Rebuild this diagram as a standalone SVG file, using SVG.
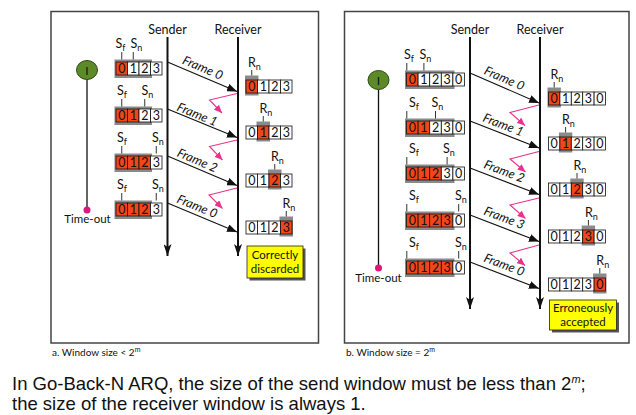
<svg xmlns="http://www.w3.org/2000/svg" width="636" height="415" viewBox="0 0 636 415">
<style>
.panel{fill:#fff;stroke:#444;stroke-width:1.5}
.t{font-family:Lato,"Noto Sans",sans-serif;fill:#111}
.hdr{font-size:12.5px;text-anchor:middle}
.d{font-size:12.5px;text-anchor:middle}
.lbl{font-size:12.5px}
.fr{font-size:12.5px;font-style:italic;text-anchor:middle}
.c{fill:#fff;stroke:#111;stroke-width:0.8}
.o{fill:#f2461a;stroke:#111;stroke-width:0.8}
.sh{fill:#8a8a8a}
.tk{stroke:#333;stroke-width:1}
.vl{stroke:#111;stroke-width:2;fill:none}
.fa{stroke:#111;stroke-width:1.1;fill:none}
.pk{stroke:#e8338c;stroke-width:1.1;fill:none}
.tl{stroke:#111;stroke-width:1.3}
.dot{fill:#e0157a}
.go{fill:#5d8a28;stroke:#2e4a12;stroke-width:1}
.yb{fill:#ffff00;stroke:#222;stroke-width:0.8}
.ys{fill:#555}
.yt{font-size:11.5px;text-anchor:middle}
.cap{font-family:Lato,"Noto Sans",sans-serif;font-size:10px;fill:#111}
.note{font-family:"Liberation Sans",Arial,sans-serif;font-size:18.5px;fill:#111}
</style>
<defs>
<marker id="ab" viewBox="0 0 10 8" refX="10" refY="4" markerWidth="10" markerHeight="8" markerUnits="userSpaceOnUse" orient="auto"><path d="M0,0 L10,4 L0,8 z" fill="#111"/></marker>
<marker id="av" viewBox="0 0 12 8" refX="12" refY="4" markerWidth="12" markerHeight="8" markerUnits="userSpaceOnUse" orient="auto"><path d="M0,0 L12,4 L0,8 L3,4 z" fill="#111"/></marker>
<marker id="ap" viewBox="0 0 8 7" refX="8" refY="3.5" markerWidth="8" markerHeight="7" markerUnits="userSpaceOnUse" orient="auto"><path d="M0,0 L8,3.5 L0,7 z" fill="#e8338c"/></marker>
</defs>
<rect width="636" height="415" fill="#fff"/>

<g id="panel-a">
<rect class="panel" x="51" y="11.5" width="267.5" height="331.5"/>
<text class="cap" x="52" y="356">a. Window size &lt; 2<tspan dy="-4" font-size="7px">m</tspan></text>
</g>
<g id="panel-b">
<rect class="panel" x="344.5" y="11.5" width="284.5" height="331.5"/>
<text class="cap" x="346" y="356">b. Window size = 2<tspan dy="-4" font-size="7px">m</tspan></text>
</g>

<g id="connectors">
<line class="vl" x1="167.5" y1="37" x2="167.5" y2="256" marker-end="url(#av)"/>
<line class="vl" x1="238" y1="37" x2="238" y2="256" marker-end="url(#av)"/>
<line class="vl" x1="470" y1="37" x2="470" y2="309" marker-end="url(#av)"/>
<line class="vl" x1="540" y1="37" x2="540" y2="309" marker-end="url(#av)"/>
<line class="tl" x1="87" y1="79.5" x2="87" y2="210"/>
<line class="tl" x1="378.5" y1="89.5" x2="378.5" y2="268"/>
<line class="fa" x1="167.5" y1="62" x2="237" y2="91.5" marker-end="url(#ab)"/>
<line class="fa" x1="167.5" y1="109" x2="237" y2="137.5" marker-end="url(#ab)"/>
<line class="fa" x1="167.5" y1="156" x2="237" y2="185.5" marker-end="url(#ab)"/>
<line class="fa" x1="167.5" y1="203" x2="237" y2="232" marker-end="url(#ab)"/>
<line class="fa" x1="470" y1="73" x2="539" y2="103" marker-end="url(#ab)"/>
<line class="fa" x1="470" y1="121" x2="539" y2="148" marker-end="url(#ab)"/>
<line class="fa" x1="470" y1="168" x2="539" y2="194.5" marker-end="url(#ab)"/>
<line class="fa" x1="470" y1="215" x2="539" y2="241.5" marker-end="url(#ab)"/>
<line class="fa" x1="470" y1="262" x2="539" y2="288.5" marker-end="url(#ab)"/>
<polyline class="pk" points="237,93.5 209.5,100 222,113" marker-end="url(#ap)"/>
<polyline class="pk" points="237,140 209.5,146.5 222.5,160" marker-end="url(#ap)"/>
<polyline class="pk" points="237,188 209,195 222.5,208.5" marker-end="url(#ap)"/>
<polyline class="pk" points="539,105 510,112.5 525,125.5" marker-end="url(#ap)"/>
<polyline class="pk" points="539,151.5 510,159 525.5,172" marker-end="url(#ap)"/>
<polyline class="pk" points="539,198 510,205 525.5,218.5" marker-end="url(#ap)"/>
<polyline class="pk" points="539,245 510,253 525,265.5" marker-end="url(#ap)"/>
<text class="t fr" x="202.5" y="72" transform="rotate(23 202.5 68.3)">Frame 0</text>
<text class="t fr" x="197" y="118.5" transform="rotate(22.5 197 115)">Frame 1</text>
<text class="t fr" x="197" y="164.5" transform="rotate(23 197 161)">Frame 2</text>
<text class="t fr" x="197" y="210.5" transform="rotate(22.5 197 207)">Frame 0</text>
<text class="t fr" x="504" y="82.5" transform="rotate(23.5 504 79)">Frame 0</text>
<text class="t fr" x="503" y="129" transform="rotate(21.5 503 125.5)">Frame 1</text>
<text class="t fr" x="504" y="175.5" transform="rotate(21 504 172)">Frame 2</text>
<text class="t fr" x="504" y="222" transform="rotate(21 504 218.5)">Frame 3</text>
<text class="t fr" x="504" y="269" transform="rotate(21 504 265.5)">Frame 0</text>
</g>

<g id="sender-a"><text class="t hdr" x="167.5" y="34">Sender</text></g>
<g id="receiver-a"><text class="t hdr" x="238" y="34">Receiver</text></g>
<g id="sender-b"><text class="t hdr" x="470" y="34">Sender</text></g>
<g id="receiver-b"><text class="t hdr" x="540" y="34">Receiver</text></g>

<g id="timer-a">
<ellipse class="go" cx="87" cy="70" rx="10.5" ry="9.5"/>
<text class="t" x="87" y="74.5" font-size="12px" text-anchor="middle">I</text>
<circle class="dot" cx="87" cy="210" r="3.5"/>
<text class="t" x="87.5" y="223" font-size="11.5px" text-anchor="middle">Time-out</text>
</g>
<g id="timer-b">
<ellipse class="go" cx="378.5" cy="80" rx="10.5" ry="9.5"/>
<text class="t" x="378.5" y="84.5" font-size="12px" text-anchor="middle">I</text>
<circle class="dot" cx="378.5" cy="268" r="3.5"/>
<text class="t" x="378.5" y="281.5" font-size="11.5px" text-anchor="middle">Time-out</text>
</g>

<g id="swin-a1">
<rect class="sh" x="114.5" y="59.5" width="37.5" height="18.5"/>
<rect class="o" x="116" y="62" width="11.5" height="13"/><rect class="c" x="127.5" y="62" width="11.5" height="13"/><rect class="c" x="139" y="62" width="11.5" height="13"/><rect class="c" x="150.5" y="62" width="11.5" height="13"/>
<text class="t d" y="73"><tspan x="121.75">0</tspan><tspan x="133.25">1</tspan><tspan x="144.75">2</tspan><tspan x="156.25">3</tspan></text>
<line class="tk" x1="121.75" y1="52" x2="121.75" y2="59.5"/><line class="tk" x1="133.25" y1="52" x2="133.25" y2="59.5"/>
<text class="t lbl" x="115.5" y="48">S<tspan dy="2.5" font-size="9px">f</tspan></text>
<text class="t lbl" x="130.5" y="48">S<tspan dy="2.5" font-size="9px">n</tspan></text>
</g>
<g id="swin-a2">
<rect class="sh" x="114.5" y="106.5" width="37.5" height="18.5"/>
<rect class="o" x="116" y="109" width="11.5" height="13"/><rect class="o" x="127.5" y="109" width="11.5" height="13"/><rect class="c" x="139" y="109" width="11.5" height="13"/><rect class="c" x="150.5" y="109" width="11.5" height="13"/>
<text class="t d" y="120"><tspan x="121.75">0</tspan><tspan x="133.25">1</tspan><tspan x="144.75">2</tspan><tspan x="156.25">3</tspan></text>
<line class="tk" x1="121.75" y1="99" x2="121.75" y2="106.5"/><line class="tk" x1="144.75" y1="99" x2="144.75" y2="106.5"/>
<text class="t lbl" x="117" y="95">S<tspan dy="2.5" font-size="9px">f</tspan></text>
<text class="t lbl" x="141.5" y="95">S<tspan dy="2.5" font-size="9px">n</tspan></text>
</g>
<g id="swin-a3">
<rect class="sh" x="114.5" y="153.5" width="37.5" height="18.5"/>
<rect class="o" x="116" y="156" width="11.5" height="13"/><rect class="o" x="127.5" y="156" width="11.5" height="13"/><rect class="o" x="139" y="156" width="11.5" height="13"/><rect class="c" x="150.5" y="156" width="11.5" height="13"/>
<text class="t d" y="167"><tspan x="121.75">0</tspan><tspan x="133.25">1</tspan><tspan x="144.75">2</tspan><tspan x="156.25">3</tspan></text>
<line class="tk" x1="121.75" y1="146" x2="121.75" y2="153.5"/><line class="tk" x1="156.25" y1="146" x2="156.25" y2="153.5"/>
<text class="t lbl" x="117" y="142">S<tspan dy="2.5" font-size="9px">f</tspan></text>
<text class="t lbl" x="152" y="142">S<tspan dy="2.5" font-size="9px">n</tspan></text>
</g>
<g id="swin-a4">
<rect class="sh" x="114.5" y="200.5" width="37.5" height="18.5"/>
<rect class="o" x="116" y="203" width="11.5" height="13"/><rect class="o" x="127.5" y="203" width="11.5" height="13"/><rect class="o" x="139" y="203" width="11.5" height="13"/><rect class="c" x="150.5" y="203" width="11.5" height="13"/>
<text class="t d" y="214"><tspan x="121.75">0</tspan><tspan x="133.25">1</tspan><tspan x="144.75">2</tspan><tspan x="156.25">3</tspan></text>
<line class="tk" x1="121.75" y1="193" x2="121.75" y2="200.5"/><line class="tk" x1="156.25" y1="193" x2="156.25" y2="200.5"/>
<text class="t lbl" x="117" y="189">S<tspan dy="2.5" font-size="9px">f</tspan></text>
<text class="t lbl" x="152" y="189">S<tspan dy="2.5" font-size="9px">n</tspan></text>
</g>

<g id="rwin-a1">
<rect class="sh" x="245" y="75.5" width="13.5" height="20"/>
<rect class="o" x="246" y="80" width="11.5" height="13"/><rect class="c" x="257.5" y="80" width="11.5" height="13"/><rect class="c" x="269" y="80" width="11.5" height="13"/><rect class="c" x="280.5" y="80" width="11.5" height="13"/>
<text class="t d" y="91"><tspan x="251.75">0</tspan><tspan x="263.25">1</tspan><tspan x="274.75">2</tspan><tspan x="286.25">3</tspan></text>
<line class="tk" x1="251.75" y1="70" x2="251.75" y2="75.5"/>
<text class="t lbl" x="248" y="67">R<tspan dy="2.5" font-size="9px">n</tspan></text>
</g>
<g id="rwin-a2">
<rect class="sh" x="256.5" y="121.5" width="13.5" height="20"/>
<rect class="c" x="246" y="126" width="11.5" height="13"/><rect class="o" x="257.5" y="126" width="11.5" height="13"/><rect class="c" x="269" y="126" width="11.5" height="13"/><rect class="c" x="280.5" y="126" width="11.5" height="13"/>
<text class="t d" y="137"><tspan x="251.75">0</tspan><tspan x="263.25">1</tspan><tspan x="274.75">2</tspan><tspan x="286.25">3</tspan></text>
<line class="tk" x1="263.25" y1="116" x2="263.25" y2="121.5"/>
<text class="t lbl" x="259.5" y="113">R<tspan dy="2.5" font-size="9px">n</tspan></text>
</g>
<g id="rwin-a3">
<rect class="sh" x="268" y="169.5" width="13.5" height="20"/>
<rect class="c" x="246" y="174" width="11.5" height="13"/><rect class="c" x="257.5" y="174" width="11.5" height="13"/><rect class="o" x="269" y="174" width="11.5" height="13"/><rect class="c" x="280.5" y="174" width="11.5" height="13"/>
<text class="t d" y="185"><tspan x="251.75">0</tspan><tspan x="263.25">1</tspan><tspan x="274.75">2</tspan><tspan x="286.25">3</tspan></text>
<line class="tk" x1="274.75" y1="164" x2="274.75" y2="169.5"/>
<text class="t lbl" x="271" y="161">R<tspan dy="2.5" font-size="9px">n</tspan></text>
</g>
<g id="rwin-a4">
<rect class="sh" x="279.5" y="216.5" width="13.5" height="20"/>
<rect class="c" x="246" y="221" width="11.5" height="13"/><rect class="c" x="257.5" y="221" width="11.5" height="13"/><rect class="c" x="269" y="221" width="11.5" height="13"/><rect class="o" x="280.5" y="221" width="11.5" height="13"/>
<text class="t d" y="232"><tspan x="251.75">0</tspan><tspan x="263.25">1</tspan><tspan x="274.75">2</tspan><tspan x="286.25">3</tspan></text>
<line class="tk" x1="286.25" y1="211" x2="286.25" y2="216.5"/>
<text class="t lbl" x="282.5" y="208">R<tspan dy="2.5" font-size="9px">n</tspan></text>
</g>

<g id="note-a">
<rect class="ys" x="249.5" y="248.5" width="56" height="32"/>
<rect class="yb" x="247" y="246" width="56" height="32"/>
<text class="t yt" x="275" y="258.5">Correctly</text>
<text class="t yt" x="275" y="272.5">discarded</text>
</g>

<g id="swin-b1">
<rect class="sh" x="405" y="70.5" width="49.5" height="18.5"/>
<rect class="o" x="406.5" y="73" width="11.6" height="13"/><rect class="c" x="418.1" y="73" width="11.6" height="13"/><rect class="c" x="429.7" y="73" width="11.6" height="13"/><rect class="c" x="441.3" y="73" width="11.6" height="13"/><rect class="c" x="452.9" y="73" width="11.6" height="13"/>
<text class="t d" y="84"><tspan x="412.3">0</tspan><tspan x="423.9">1</tspan><tspan x="435.5">2</tspan><tspan x="447.1">3</tspan><tspan x="458.7">0</tspan></text>
<line class="tk" x1="406.8" y1="63" x2="406.8" y2="70.5"/><line class="tk" x1="423.9" y1="63" x2="423.9" y2="70.5"/>
<text class="t lbl" x="404" y="59">S<tspan dy="2.5" font-size="9px">f</tspan></text>
<text class="t lbl" x="419.5" y="59">S<tspan dy="2.5" font-size="9px">n</tspan></text>
</g>
<g id="swin-b2">
<rect class="sh" x="405" y="118.5" width="49.5" height="18.5"/>
<rect class="o" x="406.5" y="121" width="11.6" height="13"/><rect class="o" x="418.1" y="121" width="11.6" height="13"/><rect class="c" x="429.7" y="121" width="11.6" height="13"/><rect class="c" x="441.3" y="121" width="11.6" height="13"/><rect class="c" x="452.9" y="121" width="11.6" height="13"/>
<text class="t d" y="132"><tspan x="412.3">0</tspan><tspan x="423.9">1</tspan><tspan x="435.5">2</tspan><tspan x="447.1">3</tspan><tspan x="458.7">0</tspan></text>
<line class="tk" x1="406.8" y1="111" x2="406.8" y2="118.5"/><line class="tk" x1="435.5" y1="111" x2="435.5" y2="118.5"/>
<text class="t lbl" x="409" y="107">S<tspan dy="2.5" font-size="9px">f</tspan></text>
<text class="t lbl" x="431.5" y="107">S<tspan dy="2.5" font-size="9px">n</tspan></text>
</g>
<g id="swin-b3">
<rect class="sh" x="405" y="164.5" width="49.5" height="18.5"/>
<rect class="o" x="406.5" y="167" width="11.6" height="13"/><rect class="o" x="418.1" y="167" width="11.6" height="13"/><rect class="o" x="429.7" y="167" width="11.6" height="13"/><rect class="c" x="441.3" y="167" width="11.6" height="13"/><rect class="c" x="452.9" y="167" width="11.6" height="13"/>
<text class="t d" y="178"><tspan x="412.3">0</tspan><tspan x="423.9">1</tspan><tspan x="435.5">2</tspan><tspan x="447.1">3</tspan><tspan x="458.7">0</tspan></text>
<line class="tk" x1="406.8" y1="157" x2="406.8" y2="164.5"/><line class="tk" x1="447.1" y1="157" x2="447.1" y2="164.5"/>
<text class="t lbl" x="409" y="153">S<tspan dy="2.5" font-size="9px">f</tspan></text>
<text class="t lbl" x="443" y="153">S<tspan dy="2.5" font-size="9px">n</tspan></text>
</g>
<g id="swin-b4">
<rect class="sh" x="405" y="211.5" width="49.5" height="18.5"/>
<rect class="o" x="406.5" y="214" width="11.6" height="13"/><rect class="o" x="418.1" y="214" width="11.6" height="13"/><rect class="o" x="429.7" y="214" width="11.6" height="13"/><rect class="o" x="441.3" y="214" width="11.6" height="13"/><rect class="c" x="452.9" y="214" width="11.6" height="13"/>
<text class="t d" y="225"><tspan x="412.3">0</tspan><tspan x="423.9">1</tspan><tspan x="435.5">2</tspan><tspan x="447.1">3</tspan><tspan x="458.7">0</tspan></text>
<line class="tk" x1="406.8" y1="204" x2="406.8" y2="211.5"/><line class="tk" x1="458.7" y1="204" x2="458.7" y2="211.5"/>
<text class="t lbl" x="409" y="200">S<tspan dy="2.5" font-size="9px">f</tspan></text>
<text class="t lbl" x="455" y="200">S<tspan dy="2.5" font-size="9px">n</tspan></text>
</g>
<g id="swin-b5">
<rect class="sh" x="405" y="258.5" width="49.5" height="18.5"/>
<rect class="o" x="406.5" y="261" width="11.6" height="13"/><rect class="o" x="418.1" y="261" width="11.6" height="13"/><rect class="o" x="429.7" y="261" width="11.6" height="13"/><rect class="o" x="441.3" y="261" width="11.6" height="13"/><rect class="c" x="452.9" y="261" width="11.6" height="13"/>
<text class="t d" y="272"><tspan x="412.3">0</tspan><tspan x="423.9">1</tspan><tspan x="435.5">2</tspan><tspan x="447.1">3</tspan><tspan x="458.7">0</tspan></text>
<line class="tk" x1="406.8" y1="251" x2="406.8" y2="258.5"/><line class="tk" x1="458.7" y1="251" x2="458.7" y2="258.5"/>
<text class="t lbl" x="409" y="247">S<tspan dy="2.5" font-size="9px">f</tspan></text>
<text class="t lbl" x="455" y="247">S<tspan dy="2.5" font-size="9px">n</tspan></text>
</g>

<g id="rwin-b1">
<rect class="sh" x="547.5" y="87.5" width="13.4" height="20"/>
<rect class="o" x="548.5" y="92" width="11.4" height="13"/><rect class="c" x="559.9" y="92" width="11.4" height="13"/><rect class="c" x="571.3" y="92" width="11.4" height="13"/><rect class="c" x="582.7" y="92" width="11.4" height="13"/><rect class="c" x="594.1" y="92" width="11.4" height="13"/>
<text class="t d" y="103"><tspan x="554.2">0</tspan><tspan x="565.6">1</tspan><tspan x="577">2</tspan><tspan x="588.4">3</tspan><tspan x="599.8">0</tspan></text>
<line class="tk" x1="554.2" y1="82" x2="554.2" y2="87.5"/>
<text class="t lbl" x="550.5" y="79">R<tspan dy="2.5" font-size="9px">n</tspan></text>
</g>
<g id="rwin-b2">
<rect class="sh" x="558.9" y="132.5" width="13.4" height="20"/>
<rect class="c" x="548.5" y="137" width="11.4" height="13"/><rect class="o" x="559.9" y="137" width="11.4" height="13"/><rect class="c" x="571.3" y="137" width="11.4" height="13"/><rect class="c" x="582.7" y="137" width="11.4" height="13"/><rect class="c" x="594.1" y="137" width="11.4" height="13"/>
<text class="t d" y="148"><tspan x="554.2">0</tspan><tspan x="565.6">1</tspan><tspan x="577">2</tspan><tspan x="588.4">3</tspan><tspan x="599.8">0</tspan></text>
<line class="tk" x1="565.6" y1="127" x2="565.6" y2="132.5"/>
<text class="t lbl" x="562" y="124">R<tspan dy="2.5" font-size="9px">n</tspan></text>
</g>
<g id="rwin-b3">
<rect class="sh" x="570.3" y="178.5" width="13.4" height="20"/>
<rect class="c" x="548.5" y="183" width="11.4" height="13"/><rect class="c" x="559.9" y="183" width="11.4" height="13"/><rect class="o" x="571.3" y="183" width="11.4" height="13"/><rect class="c" x="582.7" y="183" width="11.4" height="13"/><rect class="c" x="594.1" y="183" width="11.4" height="13"/>
<text class="t d" y="194"><tspan x="554.2">0</tspan><tspan x="565.6">1</tspan><tspan x="577">2</tspan><tspan x="588.4">3</tspan><tspan x="599.8">0</tspan></text>
<line class="tk" x1="577" y1="173" x2="577" y2="178.5"/>
<text class="t lbl" x="573.5" y="170">R<tspan dy="2.5" font-size="9px">n</tspan></text>
</g>
<g id="rwin-b4">
<rect class="sh" x="581.7" y="225.5" width="13.4" height="20"/>
<rect class="c" x="548.5" y="230" width="11.4" height="13"/><rect class="c" x="559.9" y="230" width="11.4" height="13"/><rect class="c" x="571.3" y="230" width="11.4" height="13"/><rect class="o" x="582.7" y="230" width="11.4" height="13"/><rect class="c" x="594.1" y="230" width="11.4" height="13"/>
<text class="t d" y="241"><tspan x="554.2">0</tspan><tspan x="565.6">1</tspan><tspan x="577">2</tspan><tspan x="588.4">3</tspan><tspan x="599.8">0</tspan></text>
<line class="tk" x1="588.4" y1="220" x2="588.4" y2="225.5"/>
<text class="t lbl" x="585" y="217">R<tspan dy="2.5" font-size="9px">n</tspan></text>
</g>
<g id="rwin-b5">
<rect class="sh" x="593.1" y="273.5" width="13.4" height="20"/>
<rect class="c" x="548.5" y="278" width="11.4" height="13"/><rect class="c" x="559.9" y="278" width="11.4" height="13"/><rect class="c" x="571.3" y="278" width="11.4" height="13"/><rect class="c" x="582.7" y="278" width="11.4" height="13"/><rect class="o" x="594.1" y="278" width="11.4" height="13"/>
<text class="t d" y="289"><tspan x="554.2">0</tspan><tspan x="565.6">1</tspan><tspan x="577">2</tspan><tspan x="588.4">3</tspan><tspan x="599.8">0</tspan></text>
<line class="tk" x1="599.8" y1="268" x2="599.8" y2="273.5"/>
<text class="t lbl" x="596.3" y="265">R<tspan dy="2.5" font-size="9px">n</tspan></text>
</g>

<g id="note-b">
<rect class="ys" x="552" y="302.5" width="67" height="30"/>
<rect class="yb" x="549.5" y="300" width="67" height="30"/>
<text class="t yt" x="583" y="312">Erroneously</text>
<text class="t yt" x="583" y="326">accepted</text>
</g>

<g id="caption">
<text class="note" x="12" y="390">In Go-Back-N ARQ, the size of the send window must be less than 2<tspan dy="-7" font-size="11px" font-style="italic">m</tspan><tspan dy="7">;</tspan></text>
<text class="note" x="12" y="410">the size of the receiver window is always 1.</text>
</g>
</svg>
